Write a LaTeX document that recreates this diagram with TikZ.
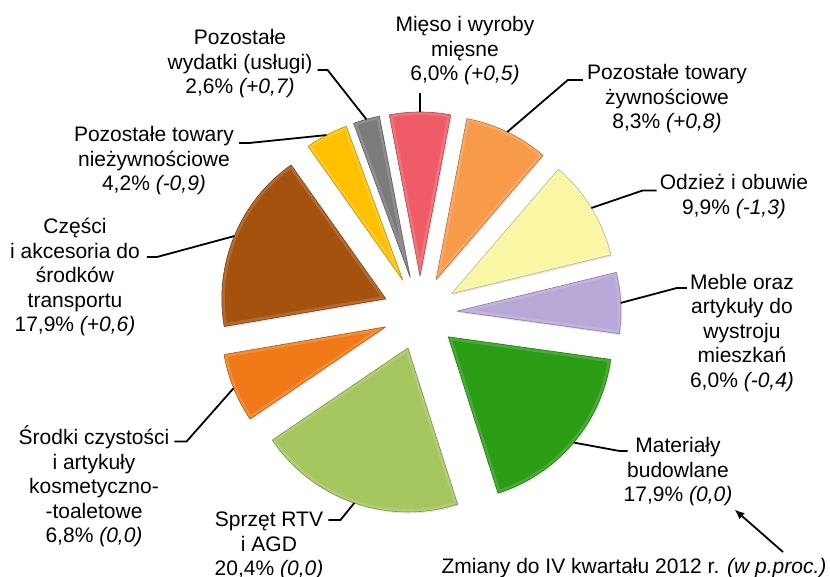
\documentclass[tikz,border=0pt]{standalone}
\usepackage{fontspec}
\setmainfont{Liberation Sans}
\usetikzlibrary{arrows.meta,calc,shadows}

\definecolor{mieso}{HTML}{EF5C67}
\definecolor{pozzyw}{HTML}{F79A49}
\definecolor{odziez}{HTML}{F9F6A4}
\definecolor{meble}{HTML}{B8A8D7}
\definecolor{materialy}{HTML}{2A9D14}
\definecolor{sprzet}{HTML}{A5C65E}
\definecolor{srodki}{HTML}{F07A17}
\definecolor{czesci}{HTML}{A5520F}
\definecolor{poznz}{HTML}{FFC000}
\definecolor{wyd}{HTML}{7B7B7B}

\begin{document}
\begin{tikzpicture}[x=1pt,y=1pt,
  lbl/.style={align=center,inner sep=0pt,font=\fontsize{21}{24.5}\selectfont},
  leader/.style={line width=1.8pt},
  slice/.style={drop shadow={shadow xshift=1pt,shadow yshift=-1.5pt,opacity=.2}}]
\useasboundingbox (0,0) rectangle (830,577);
\coordinate (c) at (420,264);
% exploded slices, counted from the top
\foreach \s/\e/\col in {79.2/100.8/mieso, 49.32/79.2/pozzyw, 13.68/49.32/odziez,
    -7.92/13.68/meble, -72.36/-7.92/materialy, -145.8/-72.36/sprzet,
    -170.28/-145.8/srodki, -234.72/-170.28/czesci, -249.84/-234.72/poznz,
    -259.2/-249.84/wyd}{
  \pgfmathsetmacro\m{(\s+\e)/2}
  \fill[slice,fill=\col] ($(c)+(\m:37pt)$) -- ++(\s:164pt)
    arc[start angle=\s,end angle=\e,radius=164pt] -- cycle;
  % soft bevel
  \begin{scope}
    \clip ($(c)+(\m:37pt)$) -- ++(\s:164pt) arc[start angle=\s,end angle=\e,radius=164pt] -- cycle;
    \draw[white,opacity=.15,line width=6pt,line join=round] ($(c)+(\m:37pt)$) -- ++(\s:164pt)
      arc[start angle=\s,end angle=\e,radius=164pt] -- cycle;
  \end{scope}
  \draw[\col!75!black,line width=0.6pt,line join=round] ($(c)+(\m:37pt)$) -- ++(\s:164pt)
    arc[start angle=\s,end angle=\e,radius=164pt] -- cycle;
  \coordinate (\col-o) at ($(c)+(\m:201pt)$);
}
% labels
\node[lbl] (wyd) at (240,513) {Pozostałe\\wydatki (usługi)\\2,6\% \textit{(+0,7)}};
\node[lbl] (mieso) at (465,526) {Mięso i wyroby\\mięsne\\6,0\% \textit{(+0,5)}};
\node[lbl] (pozzyw) at (667,478) {Pozostałe towary\\żywnościowe\\8,3\% \textit{(+0,8)}};
\node[lbl] (odziez) at (734,380.5) {Odzież i obuwie\\9,9\% \textit{(-1,3)}};
\node[lbl] (meble) at (742,244) {Meble oraz\\artykuły do\\wystroju\\mieszkań\\6,0\% \textit{(-0,4)}};
\node[lbl] (materialy) at (678,105) {Materiały\\budowlane\\17,9\% \textit{(0,0)}};
\node[lbl] (sprzet) at (269,31) {Sprzęt RTV\\i AGD\\20,4\% \textit{(0,0)}};
\node[lbl] (srodki) at (94,90.4) {Środki czystości\\i artykuły\\kosmetyczno-\\-toaletowe\\6,8\% \textit{(0,0)}};
\node[lbl] (czesci) at (75,300) {Części\\i akcesoria do\\środków\\transportu\\17,9\% \textit{(+0,6)}};
\node[lbl] (poznz) at (154,416) {Pozostałe towary\\nieżywnościowe\\4,2\% \textit{(-0,9)}};
\node[lbl] (zmiany) at (634,9) {Zmiany do IV kwartału 2012 r. \textit{(w p.proc.)}};
% leaders
\draw[leader] ([xshift=5pt,yshift=-6pt]wyd.east) -- ++(10,0) -- (wyd-o);
\draw[leader] (mieso-o) -- ([yshift=-8pt]mieso-o |- mieso.south);
\draw[leader] ([xshift=-4pt,yshift=19pt]pozzyw.west) -- ++(-15,0) -- (pozzyw-o);
\draw[leader] ([xshift=-3pt,yshift=6pt]odziez.west) -- ++(-14,0) -- (odziez-o);
\draw[leader] ([xshift=-3pt,yshift=45pt]meble.west) -- ++(-10,0) -- (meble-o);
\draw[leader] ([xshift=4pt,yshift=21pt]materialy.west) -- ++(-8,0) -- (materialy-o);
\draw[leader] ([xshift=5pt,yshift=26pt]sprzet.east) -- ++(12,0) -- (sprzet-o);
\draw[leader] ([xshift=5pt,yshift=45pt]srodki.east) -- ++(12,0) -- (srodki-o);
\draw[leader] ([xshift=7pt,yshift=20pt]czesci.east) -- ++(10,0) -- (czesci-o);
\draw[leader] ([xshift=5pt,yshift=18pt]poznz.east) -- ++(10,0) -- (poznz-o);
\draw[leader,-{Latex[length=10pt,width=8pt]}] ([xshift=149pt,yshift=6pt]zmiany.north) -- ([xshift=2pt,yshift=-3pt]materialy.south east);
\end{tikzpicture}
\end{document}
